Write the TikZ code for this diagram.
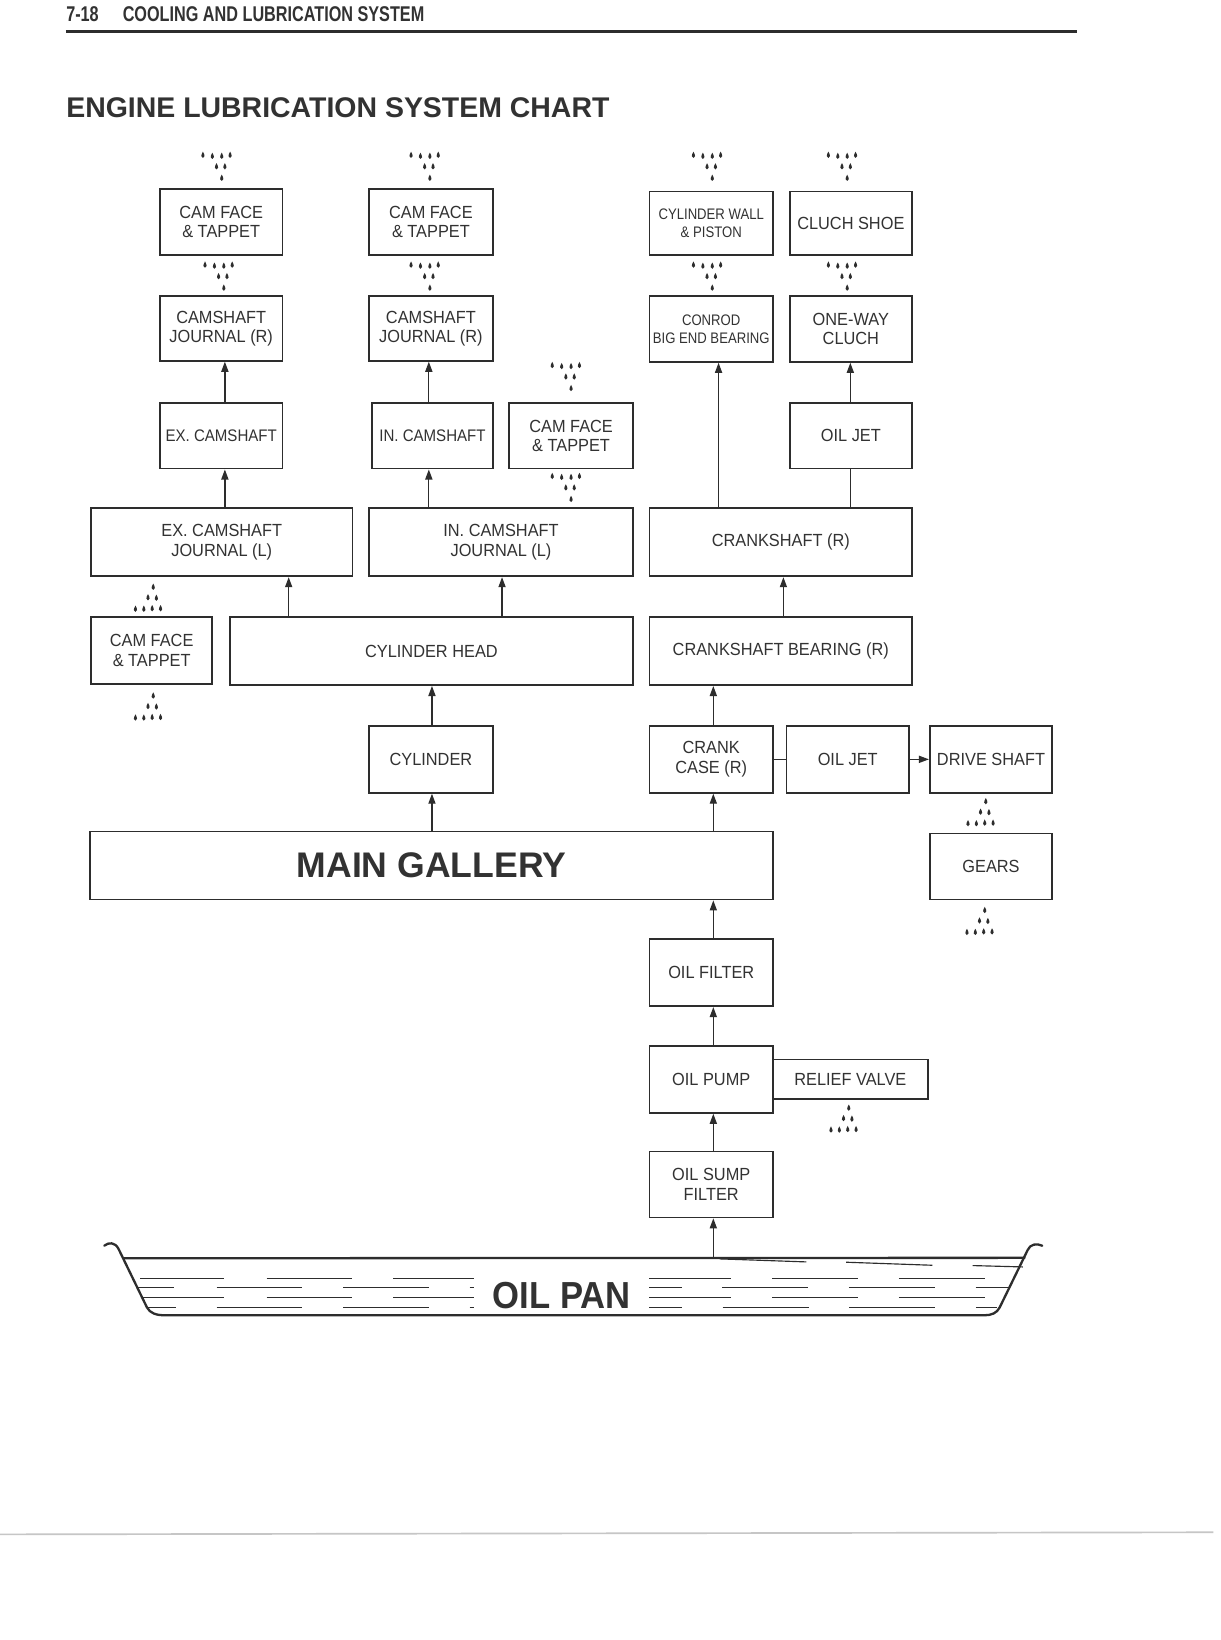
\documentclass[tikz,border=0pt]{standalone}
\usepackage{fontspec}
\setmainfont{Liberation Sans}
\newfontfamily\boxfont[FakeStretch=0.93]{Liberation Sans}
\newfontfamily\semifont[FakeStretch=0.9]{Liberation Sans}
\newfontfamily\narrowfont[FakeStretch=0.86]{Liberation Sans}
\newfontfamily\hdrfont[FakeStretch=0.76]{Liberation Sans}
\newfontfamily\panfont[FakeStretch=0.92]{Liberation Sans}
\usetikzlibrary{arrows.meta}
\definecolor{lc}{RGB}{45,45,45}
\definecolor{tc}{RGB}{50,50,50}
\newcommand\bxfs{\boxfont\fontsize{8.4}{9.25}\selectfont}
\newcommand\smfs{\semifont\fontsize{8}{9.25}\selectfont}
\newcommand\nrfs{\narrowfont\fontsize{7.3}{8.6}\selectfont}
\newcommand\mgfs{\bfseries\fontsize{17}{20}\selectfont}
\newcommand\lbox[7][]{\node[box,#1,minimum width={(#5-#3)*0.5pt},minimum height={(#6-#4)*0.5pt}] (#2) at ({(#3+#5)/2},{(#4+#6)/2}) {#7};}
\newcommand\oildrop[2]{\fill[lc] (#1,{#2-3}) .. controls ({#1+2.1},{#2+0.4}) and ({#1+2},{#2+3}) .. (#1,{#2+3}) .. controls ({#1-2},{#2+3}) and ({#1-2.1},{#2+0.4}) .. (#1,{#2-3}) -- cycle;}
\newcommand\dripdn[2]{\foreach \ddx/\ddy in {-18/0,-9/1,0/1,8/0,-5/11,3/11,0/22}{\pgfmathsetmacro\px{#1+\ddx}\pgfmathsetmacro\py{#2+\ddy}\oildrop{\px}{\py}}}
\newcommand\dripup[2]{\foreach \ddx/\ddy in {0/0,-5/10,3/10.5,-17/21,-9/21,-1/20.5,7/20.5}{\pgfmathsetmacro\px{#1+\ddx}\pgfmathsetmacro\py{#2+\ddy}\oildrop{\px}{\py}}}
\begin{document}
\begin{tikzpicture}[x=0.5pt,y=-0.5pt,
  box/.style={draw=lc,line width=0.85pt,inner sep=0pt,align=center,text=tc,font=\bxfs},
  arr/.style={draw=lc,line width=0.6pt,-{Triangle[length=4.8pt,width=3.4pt]}},
  link/.style={draw=lc,line width=0.6pt},
  pan/.style={draw=lc,line width=1.1pt,line join=round,line cap=round},
  oil/.style={draw=lc,line width=0.55pt}]
\fill[white] (0,0) rectangle (1167,1568);
\useasboundingbox (0,0) rectangle (1167,1568);

% header
\node[anchor=base west,inner sep=0pt,text=tc,font=\hdrfont\bfseries\fontsize{10.2}{12}\selectfont] (pgno) at (63,21) {7-18};
\node[anchor=base west,inner sep=0pt,text=tc,font=\hdrfont\bfseries\fontsize{10.2}{12}\selectfont] (hdr) at (117,21) {COOLING AND LUBRICATION SYSTEM};
\draw[lc,line width=1.6pt] (63,30) -- (1030,30);
\node[anchor=base west,inner sep=0pt,text=tc,font=\bfseries\fontsize{13.6}{16}\selectfont] (title) at (63,112) {ENGINE LUBRICATION SYSTEM CHART};

% boxes
\lbox{a1}{153}{181}{270}{244}{CAM FACE\\\& TAPPET}
\lbox{a2}{353}{181}{471}{244}{CAM FACE\\\& TAPPET}
\lbox[font=\nrfs]{cw}{621}{183}{739}{244}{CYLINDER WALL\\\& PISTON}
\lbox{cs}{755}{183}{872}{244}{CLUCH SHOE}
\lbox{b1}{153}{283}{270}{345}{CAMSHAFT\\JOURNAL (R)}
\lbox{b2}{353}{283}{471}{345}{CAMSHAFT\\JOURNAL (R)}
\lbox[font=\nrfs]{cr}{621}{283}{739}{346}{CONROD\\BIG END BEARING}
\lbox{ow}{755}{283}{872}{346}{ONE-WAY\\CLUCH}
\lbox[font=\smfs]{c1}{153}{385}{270}{448}{EX. CAMSHAFT}
\lbox[font=\smfs]{c2}{356}{385}{471}{448}{IN. CAMSHAFT}
\lbox{c3}{487}{385}{605}{448}{CAM FACE\\\& TAPPET}
\lbox{oj1}{755}{385}{872}{448}{OIL JET}
\lbox{d1}{87}{486}{337}{551}{EX. CAMSHAFT\\JOURNAL (L)}
\lbox{d2}{353}{486}{605}{551}{IN. CAMSHAFT\\JOURNAL (L)}
\lbox{ck}{621}{486}{872}{551}{CRANKSHAFT (R)}
\lbox{e1}{87}{590}{203}{654}{CAM FACE\\\& TAPPET}
\lbox{ch}{220}{590}{605}{655}{CYLINDER HEAD}
\lbox{cb}{621}{590}{872}{655}{CRANKSHAFT BEARING (R)}
\lbox{cy}{353}{694}{471}{758}{CYLINDER}
\lbox{cc}{621}{694}{739}{758}{CRANK\\CASE (R)}
\lbox{oj2}{752}{694}{869}{758}{OIL JET}
\lbox{ds}{889}{694}{1006}{758}{DRIVE SHAFT}
\lbox[font=\mgfs]{mg}{86}{795}{739}{860}{MAIN GALLERY}
\lbox{ge}{889}{797}{1006}{860}{GEARS}
\lbox{of}{621}{898}{739}{962}{OIL FILTER}
\lbox{op}{621}{1000}{739}{1064}{OIL PUMP}
\lbox{rv}{739}{1013}{887}{1051}{RELIEF VALVE}
\lbox{sf}{621}{1101}{739}{1164}{OIL SUMP\\FILTER}

% columns for connectors
\coordinate (k215) at (215,0);
\coordinate (k410) at (410,0);
\coordinate (k276) at (276,0);
\coordinate (k480) at (480,0);
\coordinate (k413) at (413,0);
\coordinate (k687) at (687,0);
\coordinate (k813) at (813,0);
\coordinate (k749) at (749,0);
\coordinate (k682) at (682,0);
\coordinate (pantop) at (682,1203);

% connectors
\draw[arr] (c1.north -| k215) -- (b1.south -| k215);
\draw[arr] (d1.north -| k215) -- (c1.south -| k215);
\draw[arr] (c2.north -| k410) -- (b2.south -| k410);
\draw[arr] (d2.north -| k410) -- (c2.south -| k410);
\draw[arr] (ch.north -| k276) -- (d1.south -| k276);
\draw[arr] (ch.north -| k480) -- (d2.south -| k480);
\draw[arr] (cy.north -| k413) -- (ch.south -| k413);
\draw[arr] (mg.north -| k413) -- (cy.south -| k413);
\draw[arr] (ck.north -| k687) -- (cr.south -| k687);
\draw[link] (ck.north -| k813) -- (oj1.south -| k813);
\draw[arr] (oj1.north -| k813) -- (ow.south -| k813);
\draw[arr] (cb.north -| k749) -- (ck.south -| k749);
\draw[arr] (cc.north -| k682) -- (cb.south -| k682);
\draw[arr] (mg.north -| k682) -- (cc.south -| k682);
\draw[link] (cc.east) -- (oj2.west);
\draw[arr] (oj2.east) -- (ds.west);
\draw[arr] (of.north -| k682) -- (mg.south -| k682);
\draw[arr] (op.north -| k682) -- (of.south -| k682);
\draw[arr] (sf.north -| k682) -- (op.south -| k682);
\draw[arr] (pantop) -- (sf.south -| k682);

% oil drips
\dripdn{212}{148}
\dripdn{411}{148}
\dripdn{681}{148}
\dripdn{810}{148}
\dripdn{214}{253}
\dripdn{411}{253}
\dripdn{681}{253}
\dripdn{810}{253}
\dripdn{546}{349}
\dripdn{546}{455}
\dripup{146.5}{561}
\dripup{146.5}{665}
\dripup{942.5}{766}
\dripup{941.5}{870}
\dripup{811.5}{1059}

% oil pan
\draw[pan] (99.7,1191) .. controls (104,1187.5) and (110,1187.5) .. (113.3,1194) -- (140.5,1250) .. controls (143.5,1255.5) and (149,1257.5) .. (157.7,1257.5) -- (941.4,1257.5) .. controls (948,1257.5) and (953,1255.5) .. (955.8,1250) -- (982.6,1195) .. controls (985,1189.5) and (991,1188.5) .. (996.5,1191);
\draw[pan] (118.5,1203) -- (979.6,1202.6);
\draw[oil] (688,1203.6) -- (771,1206.5);
\draw[oil] (809,1206.8) -- (891.4,1209.7);
\draw[oil] (930,1210) -- (978,1211.3);
\foreach \ya/\xa/\xb in {1222/134/214, 1222/255/337, 1222/376/453,
  1231/132/166, 1231/207/289, 1231/328/410, 1231/449/453,
  1240.5/136/214, 1240.5/255/337, 1240.5/376/453,
  1250/140.5/168, 1250/207/289, 1250/328/410, 1250/449/453,
  1222/620.6/699.3, 1222/738.5/820.3, 1222/859.5/941.4,
  1231/620.6/652.5, 1231/690.7/772.5, 1231/811.7/893.6, 1231/932.8/964,
  1240.5/620.6/699.3, 1240.5/738.5/820.3, 1240.5/859.5/941.4,
  1250/620.6/652.5, 1250/691/773, 1250/812/894, 1250/933/953}
  {\draw[oil] (\xa,\ya) -- (\xb,\ya);}
\node[anchor=base,inner sep=0pt,text=tc,font=\panfont\bfseries\fontsize{18}{20}\selectfont] (oilpan) at (537,1251) {OIL PAN};

% page edge
\draw[gray!45,line width=0.8pt] (0,1467) -- (1160,1465);
\end{tikzpicture}
\end{document}
